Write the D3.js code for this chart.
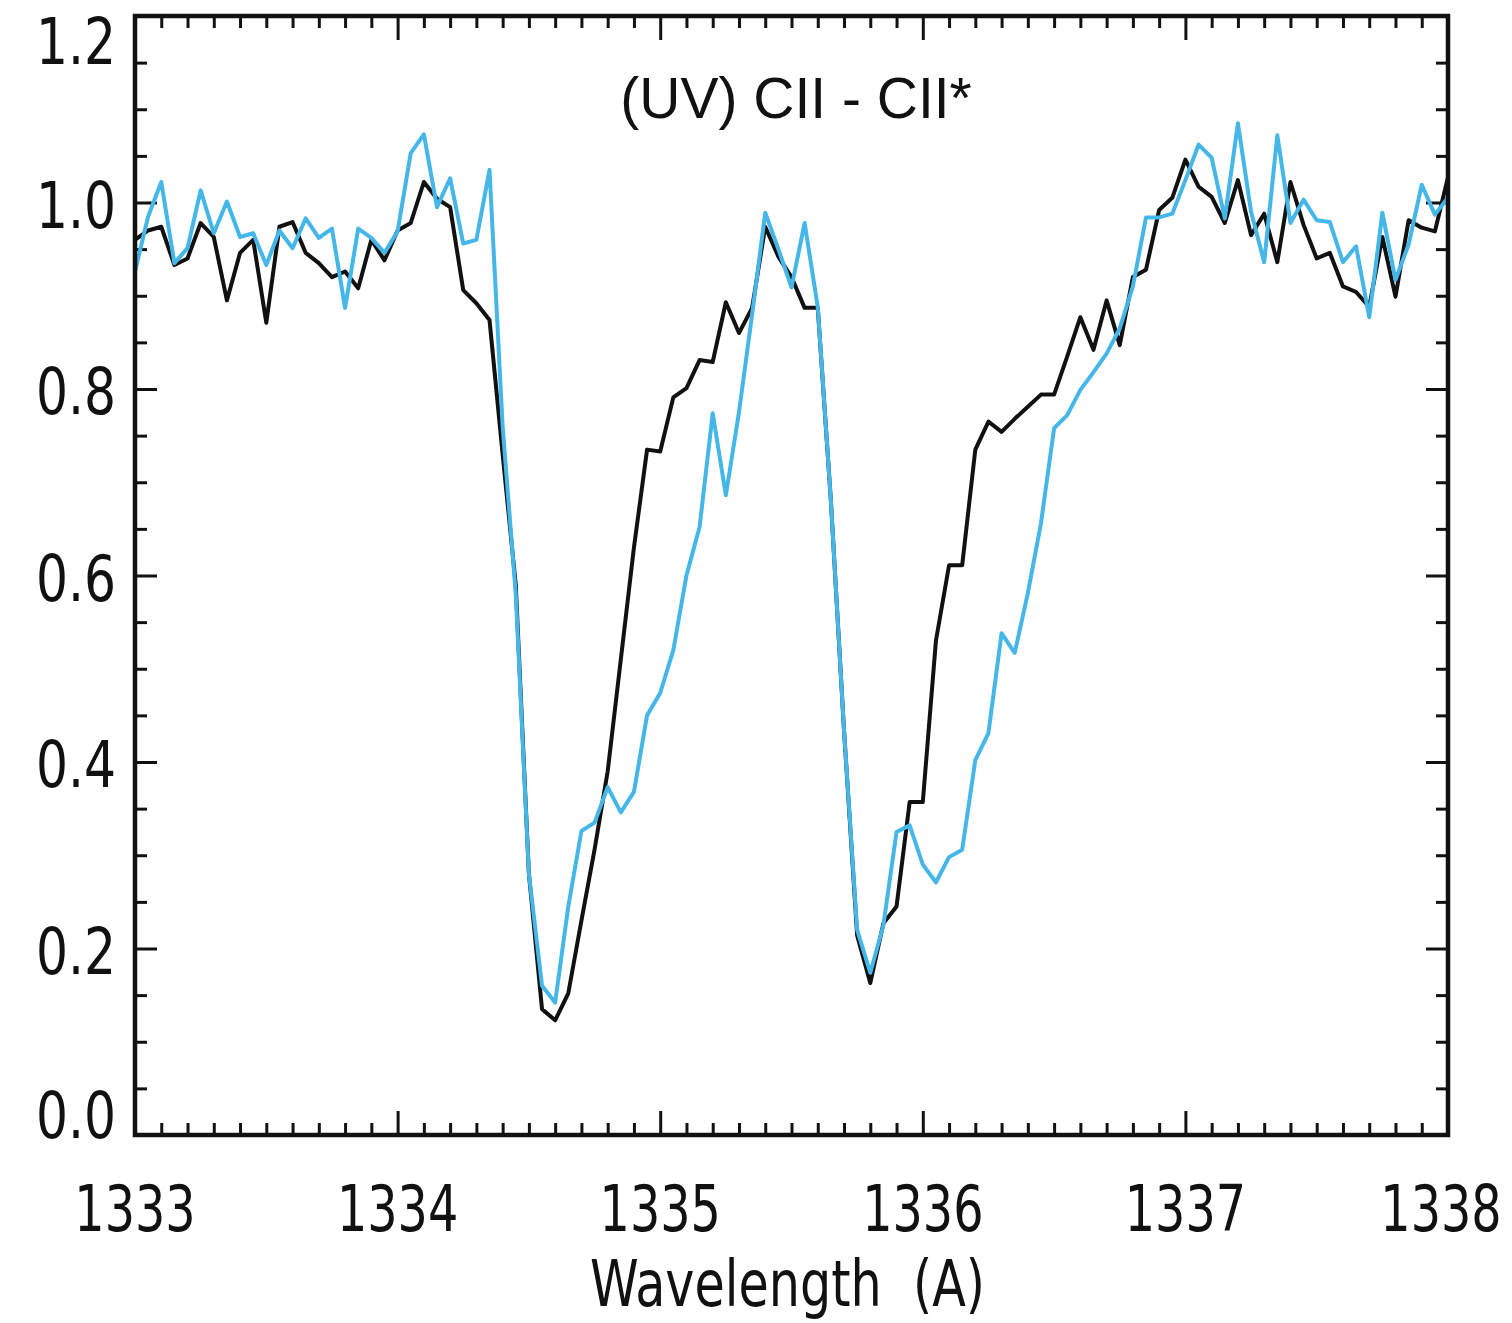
<!DOCTYPE html>
<html>
<head>
<meta charset="utf-8">
<script src="https://cdn.jsdelivr.net/npm/d3@7"></script>
<style>
  html, body { margin: 0; padding: 0; background: #fff; }
  svg { display: block; }
  .tick-label { font-family: "DejaVu Sans Condensed", "Liberation Sans", sans-serif; font-size: 64px; fill: #111; }
  .x-label { font-family: "DejaVu Sans Condensed", "Liberation Sans", sans-serif; font-size: 53px; fill: #111; }
  .title { font-family: "Liberation Sans", Arial, sans-serif; font-size: 57px; fill: #111; }
</style>
</head>
<body>
<svg id="chart" width="1512" height="1323"></svg>
<script>
// Wavelength grid (Angstrom), 0.05 A sampling
const wavelength = [
  1333.00,1333.05,1333.10,1333.15,1333.20,1333.25,1333.30,1333.35,1333.40,1333.45,
  1333.50,1333.55,1333.60,1333.65,1333.70,1333.75,1333.80,1333.85,1333.90,1333.95,
  1334.00,1334.05,1334.10,1334.15,1334.20,1334.25,1334.30,1334.35,1334.40,1334.45,
  1334.50,1334.55,1334.60,1334.65,1334.70,1334.75,1334.80,1334.85,1334.90,1334.95,
  1335.00,1335.05,1335.10,1335.15,1335.20,1335.25,1335.30,1335.35,1335.40,1335.45,
  1335.50,1335.55,1335.60,1335.65,1335.70,1335.75,1335.80,1335.85,1335.90,1335.95,
  1336.00,1336.05,1336.10,1336.15,1336.20,1336.25,1336.30,1336.35,1336.40,1336.45,
  1336.50,1336.55,1336.60,1336.65,1336.70,1336.75,1336.80,1336.85,1336.90,1336.95,
  1337.00,1337.05,1337.10,1337.15,1337.20,1337.25,1337.30,1337.35,1337.40,1337.45,
  1337.50,1337.55,1337.60,1337.65,1337.70,1337.75,1337.80,1337.85,1337.90,1337.95,
  1338.00
];

// Normalised flux, black spectrum
const fluxBlack = [
  0.960,0.970,0.974,0.933,0.940,0.978,0.963,0.895,0.946,0.960,
  0.871,0.974,0.979,0.946,0.935,0.920,0.926,0.908,0.960,0.938,
  0.970,0.978,1.022,1.004,0.995,0.906,0.892,0.874,0.730,0.590,
  0.280,0.135,0.123,0.152,0.230,0.306,0.390,0.510,0.630,0.735,
  0.733,0.791,0.801,0.831,0.829,0.893,0.860,0.887,0.974,0.942,
  0.920,0.887,0.887,0.680,0.434,0.214,0.163,0.227,0.245,0.357,
  0.357,0.530,0.611,0.611,0.735,0.765,0.754,0.768,0.781,0.794,
  0.794,0.835,0.877,0.842,0.895,0.847,0.920,0.928,0.992,1.005,
  1.046,1.017,1.006,0.978,1.024,0.965,0.988,0.936,1.022,0.976,
  0.940,0.946,0.910,0.904,0.888,0.963,0.899,0.981,0.973,0.969,
  1.027
];

// Normalised flux, blue spectrum
const fluxBlue = [
  0.926,0.985,1.022,0.935,0.951,1.013,0.967,1.001,0.963,0.967,
  0.933,0.970,0.951,0.983,0.962,0.972,0.887,0.972,0.962,0.946,
  0.969,1.053,1.073,0.995,1.026,0.956,0.960,1.035,0.760,0.580,
  0.280,0.160,0.142,0.245,0.326,0.335,0.373,0.346,0.368,0.450,
  0.474,0.520,0.600,0.652,0.774,0.686,0.775,0.880,0.989,0.950,
  0.909,0.978,0.888,0.680,0.434,0.220,0.174,0.225,0.325,0.332,
  0.290,0.271,0.298,0.306,0.402,0.431,0.538,0.517,0.581,0.656,
  0.758,0.772,0.799,0.818,0.838,0.865,0.910,0.984,0.984,0.988,
  1.024,1.062,1.048,0.983,1.085,0.990,0.936,1.072,0.978,1.003,
  0.981,0.979,0.936,0.953,0.877,0.989,0.917,0.955,1.019,0.987,
  1.005
];

const xMajorTicks = [1333, 1334, 1335, 1336, 1337, 1338];
const yMajorTicks = [0.0, 0.2, 0.4, 0.6, 0.8, 1.0, 1.2];
const titleText = "(UV) CII - CII*";
const xAxisTitle = "Wavelength  (A)";

const svg = d3.select("#chart");
const plotLeft = 135, plotRight = 1448, plotTop = 16, plotBottom = 1135;

const x = d3.scaleLinear().domain([1333, 1338]).range([plotLeft, plotRight]);
const y = d3.scaleLinear().domain([0, 1.2]).range([plotBottom, plotTop]);

const xMinor = d3.range(13330, 13381, 1).map(v => v / 10).filter(v => !xMajorTicks.includes(v));
const yMinor = d3.range(0, 25, 1).filter(i => i % 4 !== 0).map(i => i * 0.05);

const tickColor = "#111";
function styleAxis(g) {
  g.select(".domain").remove();
  g.selectAll(".tick line").attr("stroke", tickColor).attr("stroke-width", 3);
  g.selectAll(".tick text").remove();
}

// Inward ticks on all four sides
svg.append("g").attr("transform", `translate(0,${plotBottom})`)
  .call(d3.axisBottom(x).tickValues(xMajorTicks).tickSize(-24)).call(styleAxis);
svg.append("g").attr("transform", `translate(0,${plotBottom})`)
  .call(d3.axisBottom(x).tickValues(xMinor).tickSize(-12)).call(styleAxis);
svg.append("g").attr("transform", `translate(0,${plotTop})`)
  .call(d3.axisTop(x).tickValues(xMajorTicks).tickSize(-24)).call(styleAxis);
svg.append("g").attr("transform", `translate(0,${plotTop})`)
  .call(d3.axisTop(x).tickValues(xMinor).tickSize(-12)).call(styleAxis);
svg.append("g").attr("transform", `translate(${plotLeft},0)`)
  .call(d3.axisLeft(y).tickValues(yMajorTicks).tickSize(-22)).call(styleAxis);
svg.append("g").attr("transform", `translate(${plotLeft},0)`)
  .call(d3.axisLeft(y).tickValues(yMinor).tickSize(-12)).call(styleAxis);
svg.append("g").attr("transform", `translate(${plotRight},0)`)
  .call(d3.axisRight(y).tickValues(yMajorTicks).tickSize(-22)).call(styleAxis);
svg.append("g").attr("transform", `translate(${plotRight},0)`)
  .call(d3.axisRight(y).tickValues(yMinor).tickSize(-12)).call(styleAxis);

// Wavelength tick labels: tall, narrow lettering; the last one nudged in to stay on the canvas
svg.append("g").selectAll("text").data(xMajorTicks).join("text")
  .attr("class", "x-label")
  .attr("text-anchor", "middle")
  .attr("transform", (d, i) => {
    const cx = x(d) - (i === xMajorTicks.length - 1 ? 7 : 0);
    return `translate(${cx},1231) scale(1,1.2)`;
  })
  .text(d => d);

const yLabelOffset = v => v === 1.2 ? 25 : (v === 0 ? -20 : 2);
svg.append("g").selectAll("text").data(yMajorTicks).join("text")
  .attr("class", "tick-label")
  .attr("x", 116 - 80).attr("y", d => y(d) + yLabelOffset(d))
  .attr("dy", "0.36em")
  .attr("textLength", 80).attr("lengthAdjust", "spacingAndGlyphs")
  .text(d => d.toFixed(1));

// Spectra
const line = d3.line().x((d, i) => x(wavelength[i])).y(d => y(d));
svg.append("path").datum(fluxBlack)
  .attr("d", line).attr("fill", "none")
  .attr("stroke", "#111").attr("stroke-width", 4).attr("stroke-linejoin", "round");
svg.append("path").datum(fluxBlue)
  .attr("d", line).attr("fill", "none")
  .attr("stroke", "#45b6e8").attr("stroke-width", 4).attr("stroke-linejoin", "round");

// Plot frame
svg.append("rect")
  .attr("x", plotLeft).attr("y", plotTop)
  .attr("width", plotRight - plotLeft).attr("height", plotBottom - plotTop)
  .attr("fill", "none").attr("stroke", "#111").attr("stroke-width", 4.5);

// Titles
svg.append("text").attr("class", "title")
  .attr("x", 796).attr("y", 118).attr("text-anchor", "middle")
  .text(titleText);
svg.append("text").attr("class", "tick-label")
  .attr("x", 590).attr("y", 1306)
  .attr("textLength", 395).attr("lengthAdjust", "spacingAndGlyphs")
  .style("white-space", "pre")
  .text(xAxisTitle);
</script>
</body>
</html>
